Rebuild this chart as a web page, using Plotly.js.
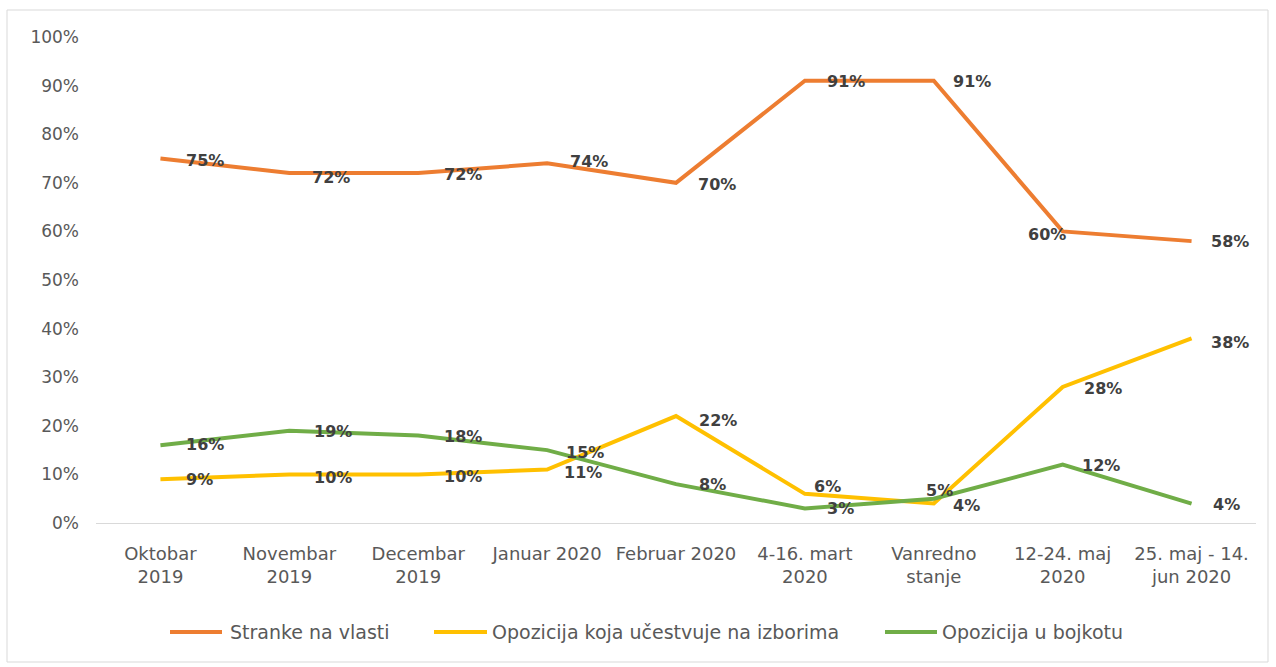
<!DOCTYPE html>
<html>
<head>
<meta charset="utf-8">
<script src="https://cdn.plot.ly/plotly-3.0.1.min.js"></script>
<style>
  html, body { margin: 0; padding: 0; background: #ffffff; }
  #chart { width: 1276px; height: 667px; }
</style>
</head>
<body>
<div id="chart"></div>
<script>
// ---- data ----
const categories = [
  "Oktobar<br>2019", "Novembar<br>2019", "Decembar<br>2019", "Januar 2020",
  "Februar 2020", "4-16. mart<br>2020", "Vanredno<br>stanje", "12-24. maj<br>2020",
  "25. maj - 14.<br>jun 2020"
];
const seriesNames = ["Stranke na vlasti", "Opozicija koja učestvuje na izborima", "Opozicija u bojkotu"];
const strankeNaVlasti = [75, 72, 72, 74, 70, 91, 91, 60, 58];
const opozicijaIzbori = [9, 10, 10, 11, 22, 6, 4, 28, 38];
const opozicijaBojkot = [16, 19, 18, 15, 8, 3, 5, 12, 4];
const yTickValues = [0, 10, 20, 30, 40, 50, 60, 70, 80, 90, 100];

// ---- styles ----
const colors = ["#ED7D31", "#FFC000", "#70AD47"];
// data label offsets in px (right, down)
const labelDx = [
  [45, 42, 45, 42, 41, 41, 38, -16, 38],
  [39, 44, 45, 36, 42, 23, 33, 40, 38],
  [45, 44, 45, 38, 36, 36, 6, 38, 35]
];
const labelDy = [
  [2, 4, 1, -2, 2, 1, 1, 3, 0],
  [0, 3, 2, 3, 4, -7, 2, 2, 4],
  [-1, 1, 1, 2, 0, 0, -8, 1, 1]
];
// legend layout in page pixels: sample start, sample end, text start
const legendPx = [[170, 222, 228], [434, 487, 490], [885, 937, 940]];
const legendY = 632;

const M = { l: 96, r: 20, t: 37, b: 144 };
const W = 1276, H = 667;
const plotW = W - M.l - M.r, plotH = H - M.t - M.b;
const px2x = p => (p - M.l) / plotW;
const px2y = p => (H - M.b - p) / plotH;

const allSeries = [strankeNaVlasti, opozicijaIzbori, opozicijaBojkot];
const FONT = "DejaVu Sans, Liberation Sans, sans-serif";

const traces = allSeries.map((vals, i) => ({
  type: "scatter",
  mode: "lines",
  x: categories,
  y: vals,
  name: seriesNames[i],
  line: { color: colors[i], width: 4 },
  hoverinfo: "skip",
  showlegend: false
}));

const annotations = [];
allSeries.forEach((vals, s) => {
  vals.forEach((v, i) => {
    annotations.push({
      x: categories[i], y: v, xref: "x", yref: "y",
      text: v + "%", showarrow: false,
      xanchor: "center", yanchor: "middle",
      xshift: labelDx[s][i], yshift: -labelDy[s][i],
      borderpad: 0,
      font: { family: FONT, size: 16, color: "#404040", weight: "bold" }
    });
  });
});

const shapes = [{
  type: "rect", xref: "paper", yref: "paper",
  x0: px2x(7), x1: px2x(1268), y0: px2y(662), y1: px2y(10),
  line: { color: "#d9d9d9", width: 1 }, fillcolor: "rgba(0,0,0,0)", layer: "below"
}];

// legend (drawn with shapes + annotations)
seriesNames.forEach((name, i) => {
  const [a, b, t] = legendPx[i];
  shapes.push({
    type: "line", xref: "paper", yref: "paper",
    x0: px2x(a), x1: px2x(b), y0: px2y(legendY), y1: px2y(legendY),
    line: { color: colors[i], width: 4 }
  });
  annotations.push({
    xref: "paper", yref: "paper", x: px2x(t), y: px2y(legendY),
    text: name, showarrow: false, xanchor: "left", yanchor: "middle",
    font: { family: FONT, size: 19, color: "#595959" }
  });
});

const layout = {
  width: W, height: H,
  margin: M,
  paper_bgcolor: "#ffffff", plot_bgcolor: "#ffffff",
  showlegend: false,
  xaxis: {
    type: "category", categoryorder: "array", categoryarray: categories,
    range: [-0.5, 8.5],
    showgrid: false, zeroline: false,
    showline: true, linecolor: "#d9d9d9", linewidth: 1,
    ticks: "", ticklabelstandoff: 14,
    tickfont: { family: FONT, size: 18, color: "#595959" },
    fixedrange: true
  },
  yaxis: {
    range: [0, 100],
    tickvals: yTickValues,
    ticktext: yTickValues.map(v => v + "%"),
    showgrid: false, zeroline: false, showline: false,
    ticks: "", ticklabelstandoff: 16,
    tickfont: { family: FONT, size: 17, color: "#595959" },
    fixedrange: true
  },
  annotations: annotations,
  shapes: shapes
};

Plotly.newPlot("chart", traces, layout, { displayModeBar: false, staticPlot: true });
</script>
</body>
</html>
